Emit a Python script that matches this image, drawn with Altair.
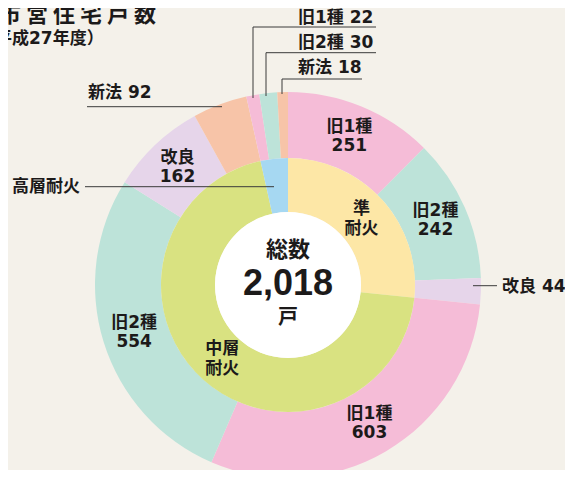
import altair as alt
import pandas as pd

# ---------------- data ----------------
title_text = "市 営 住 宅 戸 数"
subtitle_text = "（平成27年度）"
center_top = "総数"
center_total = "2,018"
center_unit = "戸"

struct_names = ["準耐火", "中層耐火", "高層耐火"]
struct_values = [537, 1411, 70]
struct_labels = ["準\n耐火", "中層\n耐火", ""]

type_names = ["旧1種", "旧2種", "改良", "旧1種", "旧2種", "改良", "新法", "旧1種", "旧2種", "新法"]
type_values = [251, 242, 44, 603, 554, 162, 92, 22, 30, 18]
type_inside = [True, True, False, True, True, True, False, False, False, False]

color_domain = ["旧1種", "旧2種", "改良", "新法", "準耐火", "中層耐火", "高層耐火"]
color_range = ["#f5bcd7", "#bde3d9", "#e6d5ea", "#f7c4a8", "#fde7a6", "#d9e281", "#a6d8f2"]

# leader-line annotation layout (pixels)
lead_id = [1, 1, 1, 2, 2, 2, 3, 3, 3, 4, 4, 5, 5, 6, 6]
lead_x = [245, 245, 368, 258, 258, 368, 274, 274, 354, 79, 214, 77, 266, 465, 489]
lead_y = [90, 19, 19, 88, 44.7, 44.7, 86, 71, 71, 98.7, 98.7, 178.7, 178.7, 277.7, 277.7]

# ---------------- layout ----------------
CX, CY = 280, 277
R_OUT, R_MID, R_IN = 193, 127, 73
FONT = "DejaVu Sans, Noto Sans CJK JP"
CJK = "Noto Sans CJK JP"
INK = "#1c1a1a"
LS = 17

outer_df = pd.DataFrame({
    "idx": list(range(len(type_values))),
    "cat": type_names,
    "value": type_values,
    "label": [f"{n}\n{v}" if ins else "" for n, v, ins in zip(type_names, type_values, type_inside)],
})
inner_df = pd.DataFrame({
    "idx": list(range(len(struct_values))),
    "cat": struct_names,
    "value": struct_values,
    "label": struct_labels,
})

color = alt.Color("cat:N", scale=alt.Scale(domain=color_domain, range=color_range), legend=None)

def base(df):
    return alt.Chart(df).encode(
        theta=alt.Theta("value:Q", stack=True),
        order=alt.Order("idx:Q", sort="ascending"),
        detail=alt.Detail("idx:N"),
        x=alt.value(CX),
        y=alt.value(CY),
    )

outer_arc = base(outer_df).mark_arc(radius=R_OUT, radius2=R_MID).encode(color=color)
outer_txt = base(outer_df).mark_text(
    radius=161, lineBreak="\n", font=FONT, fontSize=LS, fontWeight="bold",
    color=INK, lineHeight=19, baseline="middle", align="center", dy=-9.5
).encode(text="label:N")

inner_arc = base(inner_df).mark_arc(radius=R_MID, radius2=R_IN).encode(color=color)
inner_txt = base(inner_df).mark_text(
    radius=99, lineBreak="\n", font=FONT, fontSize=LS, fontWeight="bold",
    color=INK, lineHeight=20, baseline="middle", align="center", dy=-10
).encode(text="label:N")

one = pd.DataFrame({"k": [0]})
hole = alt.Chart(one).mark_circle(
    size=(2 * R_IN) ** 2, color="white", opacity=1
).encode(x=alt.value(CX), y=alt.value(CY))

def label(txt, x, y, size, fnt=FONT, align="center"):
    return alt.Chart(one).mark_text(
        font=fnt, fontSize=size, fontWeight="bold", color=INK,
        align=align, baseline="middle"
    ).encode(x=alt.value(x), y=alt.value(y), text=alt.value(txt))

c1 = label(center_top, CX, 242, 22, CJK)
c2 = label(center_total, CX, 276, 36, "Liberation Sans, Arial")
c3 = label(center_unit, CX, 310, 20, CJK)

t1 = label(title_text, -9, 7, 22, CJK, "left")
t2 = label(subtitle_text, -30, 31, 17, FONT, "left")

lead_df = pd.DataFrame({"id": lead_id, "x": lead_x, "y": lead_y,
                        "o": list(range(len(lead_id)))})
leads = alt.Chart(lead_df).mark_line(color="#3a3a3a", strokeWidth=1).encode(
    x=alt.X("x:Q", scale=None, axis=None),
    y=alt.Y("y:Q", scale=None, axis=None),
    detail="id:N",
    order="o:Q",
)

a1 = label(f"{type_names[7]} {type_values[7]}", 290, 9.5, LS, FONT, "left")
a2 = label(f"{type_names[8]} {type_values[8]}", 290, 34.5, LS, FONT, "left")
a3 = label(f"{type_names[9]} {type_values[9]}", 290, 59.5, LS, FONT, "left")
a4 = label(f"{type_names[6]} {type_values[6]}", 80, 85, LS, FONT, "left")
a5 = label(struct_names[2], 72, 178.5, LS, FONT, "right")
a6 = label(f"{type_names[2]} {type_values[2]}", 494, 279, LS, FONT, "left")

chart = alt.layer(
    outer_arc, inner_arc, hole, leads, outer_txt, inner_txt,
    c1, c2, c3, t1, t2, a1, a2, a3, a4, a5, a6
).properties(
    width=557, height=462, padding=0,
    autosize=alt.AutoSizeParams(type="none"),
    background="#f4f1ea",
).configure_view(stroke=None)

chart.save("out.html", embed_options={"renderer": "svg", "actions": False})
